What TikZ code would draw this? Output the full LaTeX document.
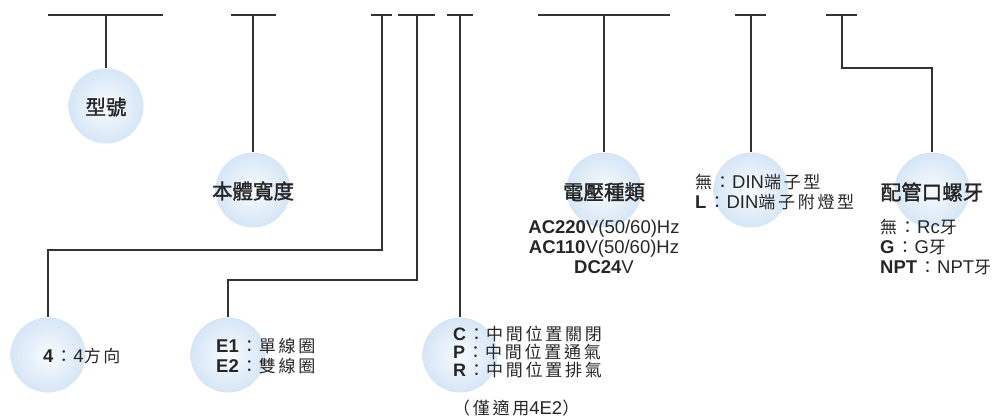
\documentclass[tikz,border=0pt]{standalone}
\usepackage{fontspec}
\setmainfont{Liberation Sans}
\newfontfamily\cjkfont[FakeBold=1.6]{Noto Sans CJK TC}
\newfontfamily\cjkplain{Noto Sans CJK TC}
\newfontfamily\cjkthin[LetterSpace=16]{Noto Sans CJK TC}
\usetikzlibrary{positioning,calc}

\definecolor{bubble}{RGB}{214,230,246}
\definecolor{bubin}{RGB}{248,251,254}
\definecolor{wire}{RGB}{51,51,51}

% chinese runs and the full width colon
\newcommand\zh[1]{{\cjkthin\fontsize{17}{17}\selectfont #1}}
\newcommand\kcolon{\hspace{2pt}{\cjkplain\fontsize{17}{17}\selectfont ：}\hspace{1pt}}

\tikzset{
  ball/.style={circle,minimum size=75pt,inner sep=0pt,shading=radial,inner color=bubin,outer color=bubble},
  bar/.style={line width=1.3pt,draw=wire},
  title/.style={inner sep=0pt,font=\fontsize{20.5}{22}\selectfont\cjkfont,text=black!85},
  desc/.style={inner sep=0pt,align=left,font=\fontsize{18.5}{20}\selectfont,text=black!85},
}

\begin{document}
\begin{tikzpicture}[x=1pt,y=-1pt]
  \useasboundingbox (0,0) rectangle (995,418);

  % code segments along the top
  \foreach \name/\l/\m/\r in {model/48/106/163,width/231/253/276,dir/371/382/392,coil/398/417/435,
                              center/447/460/473,volt/538/604/670,din/735/751/766,port/826/842/857}{
    \draw[bar] (\l,15) -- (\r,15);
    \coordinate (top-\name) at (\m,15);
  }

  % bubbles
  \node[ball] (model) at (106,106) {};
  \node[ball] (width) at (253,190) {};
  \node[ball] (volt) at (604,190) {};
  \node[ball] (din) at (751,190) {};
  \node[ball] (port) at (932,190) {};
  \node[ball] (dir) at (48,355) {};
  \node[ball] (coil) at (228,355) {};
  \node[ball] (center) at (460,355) {};

  % leaders
  \draw[bar] (top-model) -- (model);
  \draw[bar] (top-width) -- (width);
  \draw[bar] (top-dir) -- ++(0,235) -| (dir.north);
  \draw[bar] (top-coil) -- ++(0,265) -| (coil.north);
  \draw[bar] (top-center) -- (center);
  \draw[bar] (top-volt) -- (volt);
  \draw[bar] (top-din) -- (din);
  \draw[bar] (top-port) -- ++(0,53) -| (port.north);

  % titles
  \node[title] (model-t) at (106,107) {型號};
  \node[title] (width-t) at (253,191) {本體寬度};
  \node[title] (volt-t) at (604,192) {電壓種類};
  \node[title] (port-t) at (932,192) {配管口螺牙};

  % options
  \node[desc,anchor=west] (dir-t) at (43,356) {\textbf{4}\kcolon 4\zh{方向}};
  \node[desc,anchor=west] (coil-t) at (216,356) {\textbf{E1}\kcolon\zh{單線圈}\\\textbf{E2}\kcolon\zh{雙線圈}};
  \node[desc,anchor=west,font=\fontsize{18}{18}\selectfont] (center-t) at (453,352)
    {\textbf{C}\kcolon\zh{中間位置關閉}\\\textbf{P}\kcolon\zh{中間位置通氣}\\\textbf{R}\kcolon\zh{中間位置排氣}};
  \node[desc,anchor=west] (center-n) at (453,408) {\zh{（僅適用}4E2\zh{）}};
  \node[desc,align=center] (volt-d) at (604,247) {\textbf{AC220}V(50/60)Hz\\\textbf{AC110}V(50/60)Hz\\\textbf{DC24}V};
  \node[desc,anchor=west] (din-t) at (695,192) {\zh{無}\kcolon DIN\zh{端子型}\\\textbf{L}\kcolon DIN\zh{端子附燈型}};
  \node[desc,anchor=west] (port-d) at (880,247) {\zh{無}\kcolon Rc\zh{牙}\\\textbf{G}\kcolon G\zh{牙}\\\textbf{NPT}\kcolon NPT\zh{牙}};
\end{tikzpicture}
\end{document}
